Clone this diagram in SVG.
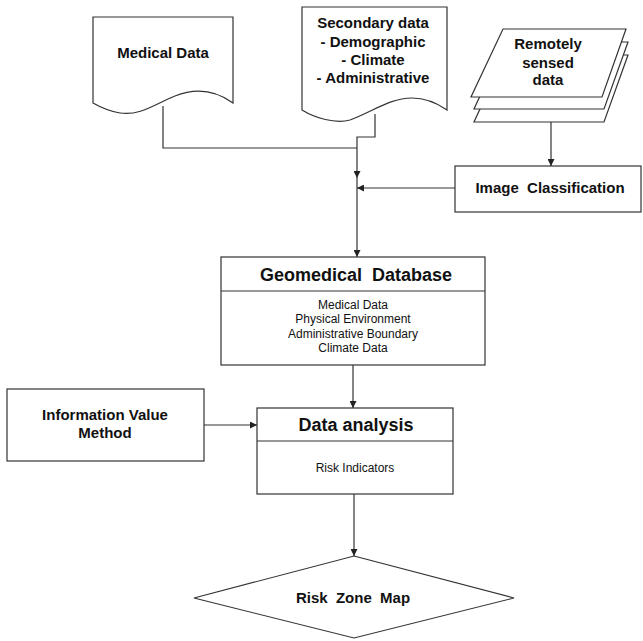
<svg xmlns="http://www.w3.org/2000/svg" width="643" height="641" viewBox="0 0 643 641">
<style>
.s{fill:#fff;stroke:#333;stroke-width:1.2}
.c{fill:none;stroke:#333;stroke-width:1.2}
.t{font-family:"Liberation Sans",Arial,sans-serif;fill:#111;text-anchor:middle}
.b{font-weight:bold;font-size:15px}
.h{font-weight:bold;font-size:18px}
.n{font-size:12px}
</style>
<defs>
<marker id="a" viewBox="0 0 10 10" refX="10" refY="5" markerWidth="7" markerHeight="7" orient="auto" markerUnits="userSpaceOnUse">
<path d="M0,0L10,5L0,10z" fill="#222"/>
</marker>
</defs>
<g id="connectors">
<path class="c" d="M163,106V148H357"/>
<path class="c" d="M375,114V137H357V178" marker-end="url(#a)"/>
<path class="c" d="M357,178V257" marker-end="url(#a)"/>
<path class="c" d="M455,188H357" marker-end="url(#a)"/>
<path class="c" d="M551,122V166" marker-end="url(#a)"/>
<path class="c" d="M353,365V408" marker-end="url(#a)"/>
<path class="c" d="M204,425H257" marker-end="url(#a)"/>
<path class="c" d="M354,494V556" marker-end="url(#a)"/>
</g>
<g id="medical-data">
<path class="s" d="M93,17H233V103C215,90 195,88 175,96C155,104 140,116 120,113C108,111 100,107 93,103Z"/>
<text class="t b" x="163" y="58">Medical Data</text>
</g>
<g id="secondary-data">
<path class="s" d="M302,7H447V110C437,103 427,98 412,98C390,98 372,112 350,120C335,124 315,118 302,110Z"/>
<text class="t b" x="373" y="28">Secondary data</text>
<text class="t b" x="373" y="47">- Demographic</text>
<text class="t b" x="373" y="65">- Climate</text>
<text class="t b" x="373" y="83">- Administrative</text>
</g>
<g id="remotely-sensed">
<path class="s" d="M505,55H628L604,122H474Z"/>
<path class="s" d="M505,42H628L604,109H474Z"/>
<path class="s" d="M503,29H626L602,97H471Z"/>
<text class="t b" x="548" y="49">Remotely</text>
<text class="t b" x="548" y="68">sensed</text>
<text class="t b" x="548" y="85">data</text>
</g>
<g id="image-classification">
<rect class="s" x="455" y="166" width="186" height="46"/>
<text class="t b" x="550" y="193" xml:space="preserve">Image  Classification</text>
</g>
<g id="geomedical-database">
<rect class="s" x="221" y="257" width="264" height="108"/>
<path class="c" d="M221,291H485"/>
<text class="t h" x="356" y="281" xml:space="preserve">Geomedical  Database</text>
<text class="t n" x="353" y="309">Medical Data</text>
<text class="t n" x="353" y="323">Physical Environment</text>
<text class="t n" x="353" y="338">Administrative Boundary</text>
<text class="t n" x="353" y="352">Climate Data</text>
</g>
<g id="information-value-method">
<rect class="s" x="7" y="389" width="197" height="72"/>
<text class="t b" x="105" y="420">Information Value</text>
<text class="t b" x="105" y="438">Method</text>
</g>
<g id="data-analysis">
<rect class="s" x="257" y="408" width="196" height="86"/>
<path class="c" d="M257,441H453"/>
<text class="t h" x="356" y="431">Data analysis</text>
<text class="t n" x="355" y="472">Risk Indicators</text>
</g>
<g id="risk-zone-map">
<path class="s" d="M354,556L514,598L354,638L194,598Z"/>
<text class="t b" x="353" y="603" xml:space="preserve">Risk  Zone  Map</text>
</g>
</svg>
